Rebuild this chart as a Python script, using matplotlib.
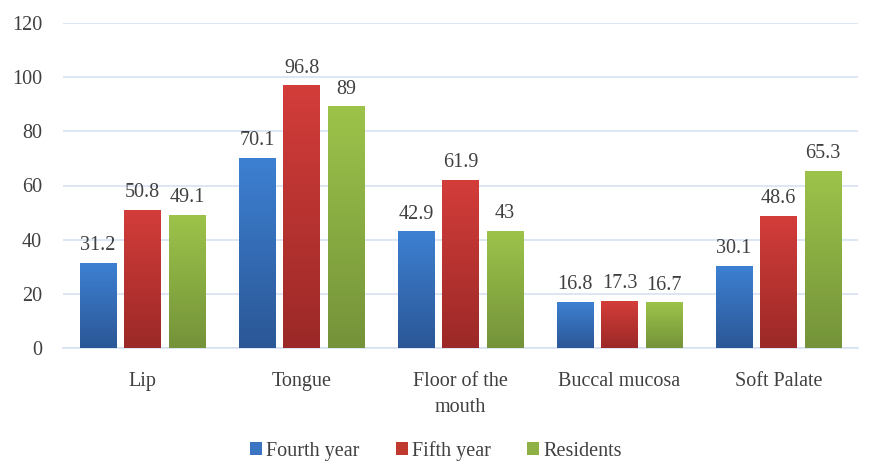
import numpy as np
import matplotlib.pyplot as plt
from matplotlib.colors import LinearSegmentedColormap
from matplotlib.patches import Patch

plt.rcParams['font.family'] = ['Liberation Serif', 'DejaVu Serif']

categories = ['Lip', 'Tongue', 'Floor of the\nmouth', 'Buccal mucosa', 'Soft Palate']
series = ['Fourth year', 'Fifth year', 'Residents']
fourth = [31.2, 70.1, 42.9, 16.8, 30.1]
fifth = [50.8, 96.8, 61.9, 17.3, 48.6]
residents = [49.1, 89, 43, 16.7, 65.3]
labels = [['31.2', '70.1', '42.9', '16.8', '30.1'],
          ['50.8', '96.8', '61.9', '17.3', '48.6'],
          ['49.1', '89', '43', '16.7', '65.3']]

# top colour, bottom colour for each series
grads = [('#3d80d2', '#2b5796'), ('#d33d3a', '#9b2927'), ('#9dc34a', '#74933a')]
solid = ['#3b74c0', '#c0392f', '#8fb045']

fig = plt.figure(figsize=(8.72, 4.62), dpi=100)
ax = fig.add_axes([63 / 872, 1 - 348 / 462, 795 / 872, 325 / 462])

x = np.arange(len(categories))
width = 0.23
step = 0.28
grad = np.linspace(0, 1, 256).reshape(-1, 1)

for i, vals in enumerate([fourth, fifth, residents]):
    cmap = LinearSegmentedColormap.from_list('g%d' % i, [grads[i][1], grads[i][0]])
    for j, v in enumerate(vals):
        xc = x[j] + (i - 1) * step
        ax.imshow(grad, extent=[xc - width / 2, xc + width / 2, 0, v], origin='lower',
                  cmap=cmap, aspect='auto', zorder=3)
        ax.text(xc, v + 3, labels[i][j], ha='center', va='bottom',
                fontsize=14.5, color='#404040', zorder=4)

ax.set_xlim(-0.5, len(categories) - 0.5)
ax.set_ylim(0, 120)
ax.set_yticks(range(0, 121, 20))
ax.set_xticks(x)
ax.set_xticklabels(categories, fontsize=14.5, color='#404040', linespacing=1.55)
ax.tick_params(axis='y', labelsize=14.5, labelcolor='#404040', length=0, pad=15)
ax.tick_params(axis='x', length=0, pad=17)
ax.grid(axis='y', color='#d5e2f2', linewidth=1.2, zorder=0)
ax.set_axisbelow(True)
for s in ['top', 'right', 'left']:
    ax.spines[s].set_visible(False)
ax.spines['bottom'].set_color('#d5e2f2')
ax.spines['bottom'].set_linewidth(1.2)

handles = [Patch(facecolor=solid[i], label=series[i]) for i in range(3)]
fig.legend(handles=handles, loc='center', bbox_to_anchor=(0.5, 1 - 451 / 462), ncol=3,
           frameon=False, fontsize=14.5, handlelength=0.6, handleheight=0.6,
           handletextpad=0.2, columnspacing=1.8, labelcolor='#404040')

fig.savefig('out.png', dpi=100)
